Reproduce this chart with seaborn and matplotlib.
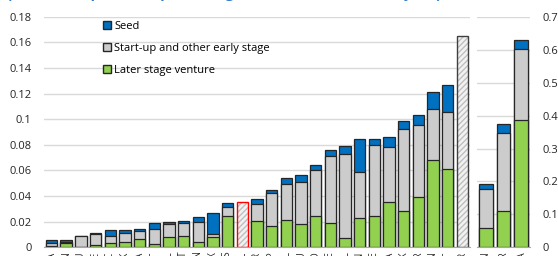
import numpy as np
import matplotlib.pyplot as plt
import seaborn as sns
from matplotlib.patches import Patch

plt.rcParams['font.family'] = ['Open Sans', 'DejaVu Sans']

# Left panel (% of GDP, axis 0-0.18)
countries = ['LVA', 'HUN', 'LTU', 'CZE', 'GRC', 'SVK', 'ITA', 'PRT', 'POL', 'AUT',
             'JPN', 'LUX', 'AUS', 'NZL', 'NOR', 'ESP', 'BEL', 'DEU', 'NLD', 'CHE',
             'IRL', 'FIN', 'SWE', 'FRA', 'DNK', 'GBR', 'CHN', 'EST', 'ISR']
later = [0.001, 0.0034, 0.0, 0.0015, 0.0034, 0.0039, 0.0062, 0.0023, 0.0078, 0.0086,
         0.0039, 0.0078, 0.0242, np.nan, 0.0205, 0.0169, 0.0214, 0.018, 0.0242, 0.019,
         0.007, 0.0227, 0.0245, 0.0352, 0.0284, 0.0393, 0.068, 0.0609, np.nan]
early = [0.0025, 0.0006, 0.0086, 0.0092, 0.0055, 0.007, 0.0062, 0.0122, 0.0107, 0.0101,
         0.0156, 0.0029, 0.007, np.nan, 0.0131, 0.0258, 0.0281, 0.0328, 0.0362, 0.0524,
         0.0662, 0.0362, 0.0557, 0.0434, 0.0638, 0.0565, 0.0398, 0.0448, np.nan]
seed = [0.002, 0.0015, 0.0005, 0.0005, 0.0047, 0.0026, 0.0018, 0.0047, 0.0013, 0.0021,
        0.0039, 0.0164, 0.0034, np.nan, 0.0044, 0.0021, 0.0044, 0.0054, 0.0037, 0.0049,
        0.006, 0.0255, 0.0047, 0.0073, 0.0068, 0.0078, 0.0133, 0.0211, np.nan]
# countries with only a total available (hatched bars)
total_only = [np.nan] * 13 + [0.0356] + [np.nan] * 14 + [0.165]
total_edge = {13: '#FF0000', 28: '#404040'}

# Right panel (axis 0-0.7)
right_countries = ['CAN', 'KOR', 'USA']
right_later = [0.06, 0.11, 0.386]
right_early = [0.116, 0.236, 0.215]
right_seed = [0.016, 0.028, 0.03]

BLUE = '#0070C0'
GRAY = '#CCCCCC'
GREEN = '#92D050'
EDGE = '#262626'
GRID = '#D9D9D9'
BAR_W = 0.78


def stacked_bars(ax, cats, lat, ear, sd):
    lat, ear, sd = np.array(lat), np.array(ear), np.array(sd)
    layers = [(lat + ear + sd, BLUE), (lat + ear, GRAY), (lat, GREEN)]
    for vals, col in layers:
        sns.barplot(x=cats, y=vals, order=cats, color=col, saturation=1, edgecolor=EDGE,
                    linewidth=0.9, width=BAR_W, errorbar=None, ax=ax)


def style_axis(ax, ymax, step, side):
    ax.set_ylim(0, ymax)
    ax.set_yticks(np.arange(0, ymax + step / 2, step))
    ax.set_yticklabels(['%g' % round(t, 2) for t in ax.get_yticks()])
    ax.yaxis.grid(True, color=GRID, linewidth=1)
    ax.set_axisbelow(True)
    for s in ['top', 'left', 'right']:
        ax.spines[s].set_visible(False)
    ax.spines['bottom'].set_color('#A6A6A6')
    ax.tick_params(axis='y', length=0, labelsize=8, pad=9, colors='#262626')
    ax.tick_params(axis='x', length=0, labelsize=7, pad=3, colors='#262626', labelrotation=90)
    if side == 'right':
        ax.yaxis.tick_right()
    ax.set_xlabel('')
    ax.set_ylabel('')


fig = plt.figure(figsize=(5.58, 2.56), dpi=100)
ax1 = fig.add_axes([0.0792, 0.034, 0.7627, 0.900])
ax2 = fig.add_axes([0.855, 0.034, 0.095, 0.900])

stacked_bars(ax1, countries, later, early, seed)

# hatched total-only bars
n_before = len(ax1.patches)
sns.barplot(x=countries, y=total_only, order=countries, color='#F2F2F2', saturation=1,
            width=BAR_W, errorbar=None, ax=ax1)
for p in ax1.patches[n_before:]:
    h = p.get_height()
    if not np.isfinite(h) or h == 0:
        continue
    idx = int(round(p.get_x() + p.get_width() / 2))
    p.set_hatch('//////')
    p.set_edgecolor('#BFBFBF')
    p.set_linewidth(0)
    ax1.bar(p.get_x(), h, width=p.get_width(), align='edge', fill=False,
            edgecolor=total_edge.get(idx, EDGE), linewidth=1.0)

stacked_bars(ax2, right_countries, right_later, right_early, right_seed)

style_axis(ax1, 0.18, 0.02, 'left')
style_axis(ax2, 0.7, 0.1, 'right')
ax1.set_xlim(-0.5, len(countries) - 0.5)
ax2.set_xlim(-0.5, len(right_countries) - 0.5)

handles = [Patch(facecolor=BLUE, edgecolor=EDGE, label='Seed'),
           Patch(facecolor=GRAY, edgecolor=EDGE, label='Start-up and other early stage'),
           Patch(facecolor=GREEN, edgecolor=EDGE, label='Later stage venture')]
fig.legend(handles=handles, loc='upper left', bbox_to_anchor=(103 / 558, 1 - 21 / 256),
           frameon=False, fontsize=8, handlelength=0.7, handleheight=0.7,
           handletextpad=0.3, labelspacing=1.0, borderpad=0, borderaxespad=0)

# title sits mostly above the visible area, as in the source crop
fig.text(0.012, 1 + 2 / 256, '(Venture capital as a percentage of GDP, 2019 or latest year)',
         color='#2F7CC4', fontsize=10.5, fontweight='bold', va='baseline', ha='left')

fig.savefig('out.png', dpi=100)
